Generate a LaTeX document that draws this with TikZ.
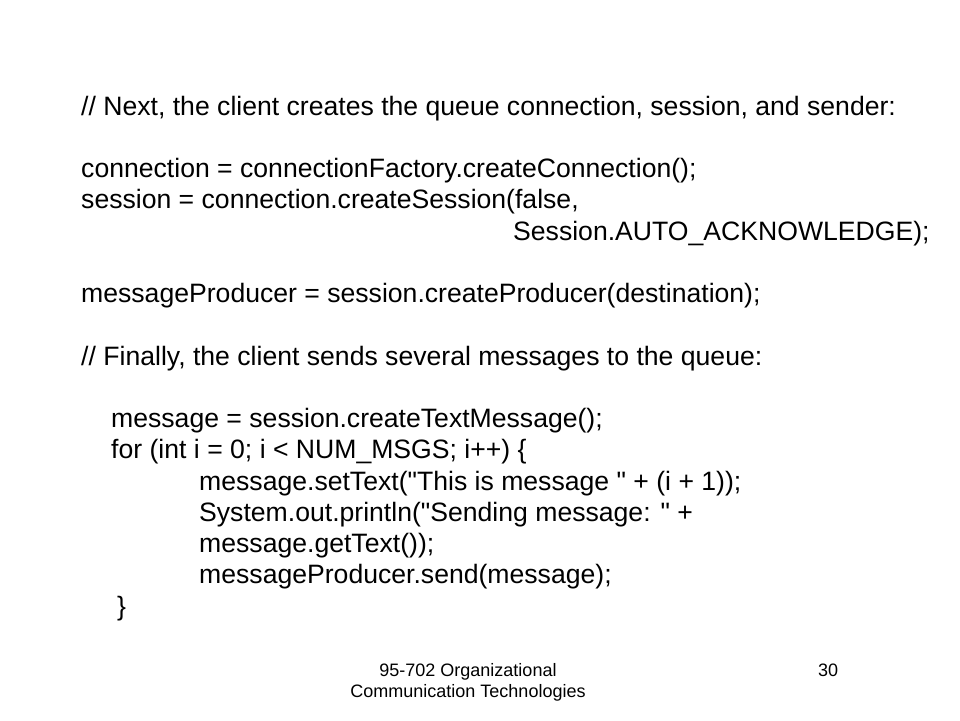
\documentclass[tikz,border=0pt]{standalone}
\usepackage{fontspec}
\setmainfont[Ligatures=TeXOff]{Liberation Sans}
\begin{document}
\begin{tikzpicture}[x=1pt,y=-1pt,
  codeline/.style={anchor=base west,inner sep=0pt,font=\fontsize{26.6}{31}\selectfont},
  footline/.style={anchor=base,inner sep=0pt,font=\fontsize{18}{21}\selectfont}]
\useasboundingbox (0,0) rectangle (960,720);
\node[codeline] (l1) at (81,115) {// Next, the client creates the queue connection, session, and sender:};
\node[codeline] (l2) at (81,177.5) {connection = connectionFactory.createConnection();};
\node[codeline] (l3) at (81,208.75) {session = connection.createSession(false,};
\node[codeline] (l4) at (513,240) {Session.AUTO\_ACKNOWLEDGE);};
\node[codeline] (l5) at (81,302.5) {messageProducer = session.createProducer(destination);};
\node[codeline] (l6) at (81,365) {// Finally, the client sends several messages to the queue:};
\node[codeline] (l7) at (111,427.5) {message = session.createTextMessage();};
\node[codeline] (l8) at (111,458.75) {for (int i = 0; i < NUM\_MSGS; i++) \{};
\node[codeline] (l9) at (199,490) {message.setText("This is message " + (i + 1));};
\node[codeline] (l10) at (199,521.25) {System.out.println("Sending message: " +};
\node[codeline] (l11) at (199,552.5) {message.getText());};
\node[codeline] (l12) at (199,583.75) {messageProducer.send(message);};
\node[codeline] (l13) at (117,615) {\}};
\node[footline] (f1) at (468,676) {95-702 Organizational};
\node[footline] (f2) at (468,697) {Communication Technologies};
\node[anchor=base west,inner sep=0pt,font=\fontsize{18}{21}\selectfont] (pg) at (818,676) {30};
\end{tikzpicture}
\end{document}
